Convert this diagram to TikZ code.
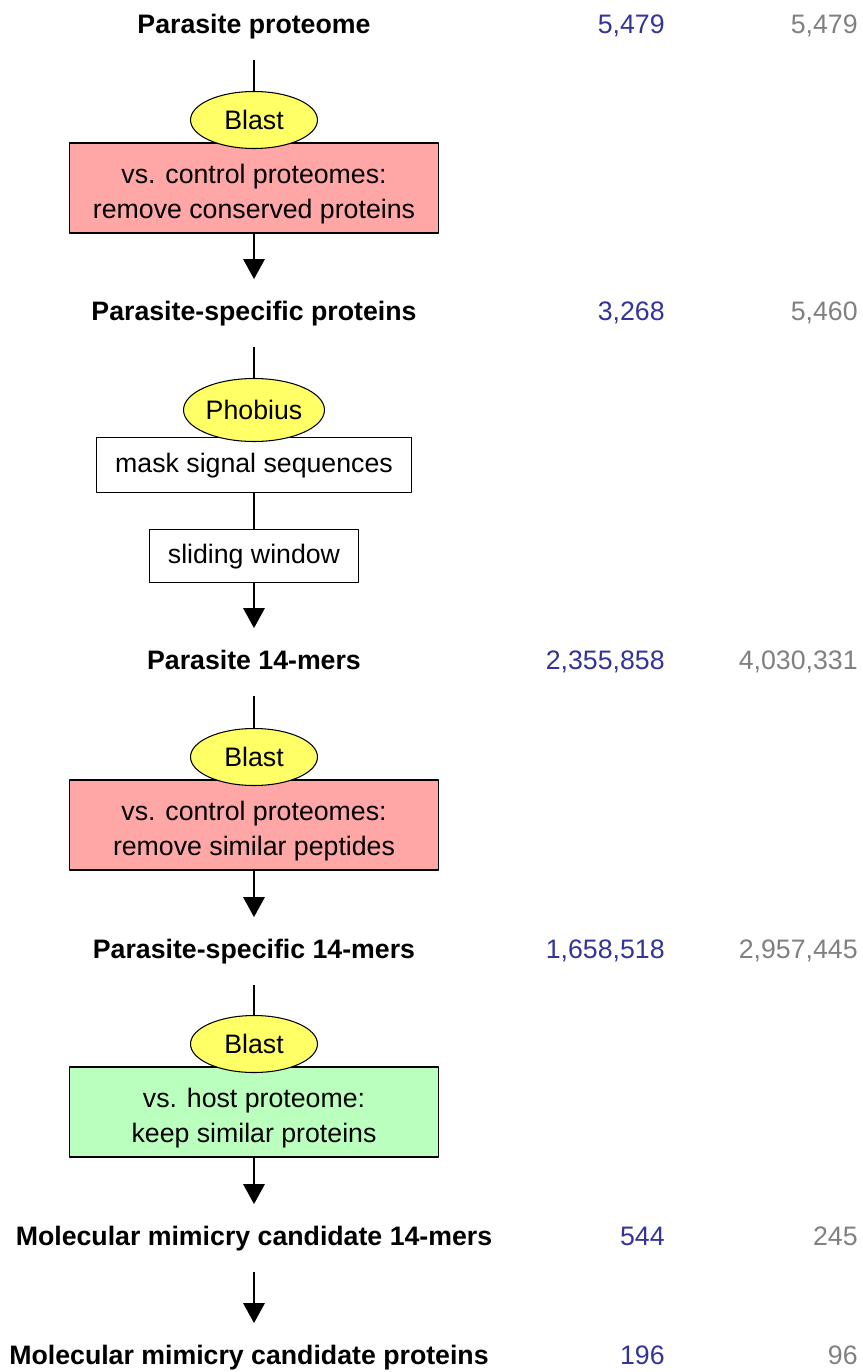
\documentclass[tikz,border=0pt]{standalone}
\usepackage{fontspec}
\setmainfont{Liberation Sans}
\usetikzlibrary{shapes.geometric,arrows.meta}
\definecolor{pinkbox}{RGB}{255,166,166}
\definecolor{greenbox}{RGB}{187,255,191}
\definecolor{toolyellow}{RGB}{255,255,102}
\definecolor{numblue}{RGB}{51,51,153}
\definecolor{numgray}{RGB}{128,128,128}
\def\lift{\rule{0pt}{0.62cm}}
\begin{document}
\begin{tikzpicture}[x=0.02cm, y=-0.02cm, font=\fontsize{15.2}{19.9}\selectfont, line join=round,
  title/.style={font=\fontsize{15.2}{19.9}\selectfont\bfseries, text height=0.82em, text depth=0em, minimum height=1.34cm, inner sep=0pt},
  tool/.style={ellipse, draw, fill=toolyellow, line width=0.6pt, minimum width=2.54cm, minimum height=1.14cm, inner sep=0pt},
  filter/.style={draw, line width=0.8pt, minimum width=7.38cm, minimum height=1.8cm, align=center, inner sep=0pt},
  stepbox/.style={draw, fill=white, line width=0.8pt, text height=0.8em, text depth=0em, inner sep=0pt},
  countA/.style={text=numblue, anchor=base east, inner sep=0pt},
  countB/.style={text=numgray, anchor=base east, inner sep=0pt},
  link/.style={line width=1.7pt},
  flow/.style={link, -{Triangle[width=0.42cm,length=0.4cm]}}]
\useasboundingbox (0,0) rectangle (862,1372);
\def\xa{665} \def\xb{858}
% stages
\node[title] (t1) at (254,26) {Parasite proteome};
\node[title] (t2) at (254,313) {Parasite-specific proteins};
\node[title] (t3) at (254,662) {Parasite 14-mers};
\node[title] (t4) at (254,951) {Parasite-specific 14-mers};
\node[title] (t5) at (254,1238) {Molecular mimicry candidate 14-mers};
\node[title] (t6) at (249,1357) {Molecular mimicry candidate proteins};
% counts
\node[countA] (n1a) at (t1.base -| \xa,0) {5,479};
\node[countB] (n1b) at (t1.base -| \xb,0) {5,479};
\node[countA] (n2a) at (t2.base -| \xa,0) {3,268};
\node[countB] (n2b) at (t2.base -| \xb,0) {5,460};
\node[countA] (n3a) at (t3.base -| \xa,0) {2,355,858};
\node[countB] (n3b) at (t3.base -| \xb,0) {4,030,331};
\node[countA] (n4a) at (t4.base -| \xa,0) {1,658,518};
\node[countB] (n4b) at (t4.base -| \xb,0) {2,957,445};
\node[countA] (n5a) at (t5.base -| \xa,0) {544};
\node[countB] (n5b) at (t5.base -| \xb,0) {245};
\node[countA] (n6a) at (t6.base -| \xa,0) {196};
\node[countB] (n6b) at (t6.base -| \xb,0) {96};
% filters
\node[filter, fill=pinkbox] (b1) at (254,188) {\lift vs. control proteomes:\\remove conserved proteins};
\node[tool] (e1) at (254,120) {Blast};
\node[stepbox, minimum width=6.3cm, minimum height=1.1cm] (m2) at (254,465) {mask signal sequences};
\node[tool, minimum width=2.82cm, minimum height=1.26cm] (e2) at (254,410) {Phobius};
\node[stepbox, minimum width=4.18cm, minimum height=1.06cm] (s2) at (254,556) {sliding window};
\node[filter, fill=pinkbox] (b3) at (254,825) {\lift vs. control proteomes:\\remove similar peptides};
\node[tool] (e3) at (254,757) {Blast};
\node[filter, fill=greenbox] (b4) at (254,1112) {\lift vs. host proteome:\\keep similar proteins};
\node[tool] (e4) at (254,1044) {Blast};
% connectors
\draw[link] (t1) -- (e1);
\draw[flow] (b1) -- (t2);
\draw[link] (t2) -- (e2);
\draw[link] (m2) -- (s2);
\draw[flow] (s2) -- (t3);
\draw[link] (t3) -- (e3);
\draw[flow] (b3) -- (t4);
\draw[link] (t4) -- (e4);
\draw[flow] (b4) -- (t5);
\draw[flow] (t5.south -| 254,0) -- (t6.north -| 254,0);
\end{tikzpicture}
\end{document}
